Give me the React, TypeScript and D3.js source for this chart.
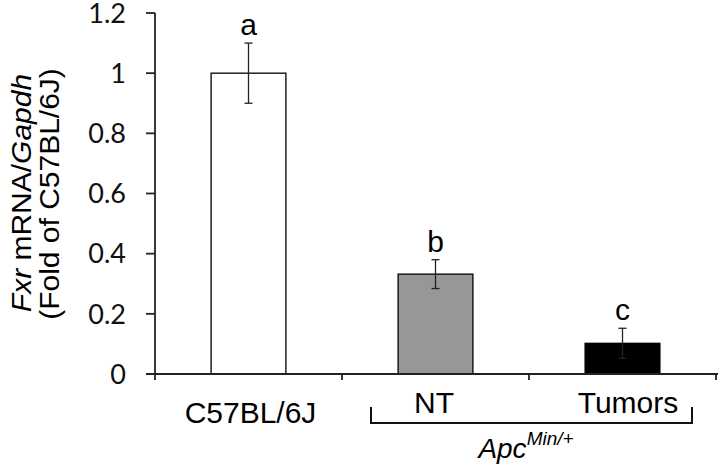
import React from "react";
import * as d3 from "d3";

const categories = ["C57BL/6J", "NT", "Tumors"];
const values = [1.0, 0.332, 0.102];
const errors = [0.1, 0.048, 0.05];
const letters = ["a", "b", "c"];
const fills = ["#ffffff", "#979797", "#000000"];
const yTicks = [0, 0.2, 0.4, 0.6, 0.8, 1, 1.2];

const W = 720;
const H = 466;

export default function App() {
  const x = d3.scaleBand<string>().domain(categories).range([155, 716]).paddingInner(0).paddingOuter(0);
  const y = d3.scaleLinear().domain([0, 1.2]).range([374, 13]);
  const bw = x.bandwidth() * 0.4;
  const sans = "'Liberation Sans', Arial, sans-serif";
  const tickFont = "Lato, 'Open Sans', sans-serif";
  const axisColor = "#222";
  const boundaries = [...categories.map((c) => x(c) as number), 716];

  return (
    <svg width={W} height={H} style={{ position: "absolute", left: 0, top: 0, background: "#fff" }}>
      <rect width={W} height={H} fill="#fff" />
      {/* bars */}
      {categories.map((c, i) => {
        const cx = (x(c) as number) + x.bandwidth() / 2;
        return (
          <g key={c}>
            <rect
              x={cx - bw / 2}
              y={y(values[i])}
              width={bw}
              height={y(0) - y(values[i])}
              fill={fills[i]}
              stroke="#000"
              strokeWidth={1.3}
            />
            <line x1={cx} x2={cx} y1={y(values[i] + errors[i])} y2={y(values[i] - errors[i])} stroke="#222" strokeWidth={1.3} />
            <line x1={cx - 4} x2={cx + 4} y1={y(values[i] + errors[i])} y2={y(values[i] + errors[i])} stroke="#222" strokeWidth={1.3} />
            <line x1={cx - 4} x2={cx + 4} y1={y(values[i] - errors[i])} y2={y(values[i] - errors[i])} stroke="#222" strokeWidth={1.3} />
            <text x={cx} y={y(values[i] + errors[i]) - 8} textAnchor="middle" fontFamily={sans} fontSize={30} fill="#000">
              {letters[i]}
            </text>
          </g>
        );
      })}
      {/* y axis */}
      <line x1={155} x2={155} y1={y(1.2)} y2={y(0)} stroke={axisColor} strokeWidth={1.8} />
      {yTicks.map((t) => (
        <g key={t}>
          <line x1={146} x2={155} y1={y(t)} y2={y(t)} stroke={axisColor} strokeWidth={1.8} />
          <text x={126} y={y(t)} dy="0.36em" textAnchor="end" fontFamily={tickFont} fontSize={27} fill="#111">
            {String(t)}
          </text>
        </g>
      ))}
      {/* x axis */}
      <line x1={146} x2={718} y1={y(0)} y2={y(0)} stroke={axisColor} strokeWidth={1.8} />
      {boundaries.map((b, i) => (
        <line key={i} x1={b} x2={b} y1={y(0)} y2={y(0) + 6} stroke={axisColor} strokeWidth={1.8} />
      ))}
      {/* category labels */}
      <text x={(x(categories[0]) as number) + x.bandwidth() / 2 + 2} y={423} textAnchor="middle" fontFamily={sans} fontSize={30} fill="#000">
        {categories[0]}
      </text>
      <text x={434} y={413} textAnchor="middle" fontFamily={sans} fontSize={30} fill="#000">
        {categories[1]}
      </text>
      <text x={628} y={413} textAnchor="middle" fontFamily={sans} fontSize={30} fill="#000">
        {categories[2]}
      </text>
      {/* bracket */}
      <path d="M371,407 V423 H692 V407" fill="none" stroke="#111" strokeWidth={2} />
      <text x={526} y={458} textAnchor="middle" fontFamily={sans} fontSize={28} fontStyle="italic" fill="#000">
        Apc
        <tspan fontSize={19} dy={-13}>Min/+</tspan>
      </text>
      {/* y title */}
      <text transform="translate(31,193) scale(0.92,1) rotate(-90)" textAnchor="middle" fontFamily={sans} fontSize={30} fill="#000">
        <tspan fontStyle="italic">Fxr</tspan> mRNA/<tspan fontStyle="italic">Gapdh</tspan>
      </text>
      <text transform="translate(59,194) scale(0.92,1) rotate(-90)" textAnchor="middle" fontFamily={sans} fontSize={30} fill="#000">
        (Fold of C57BL/6J)
      </text>
    </svg>
  );
}
